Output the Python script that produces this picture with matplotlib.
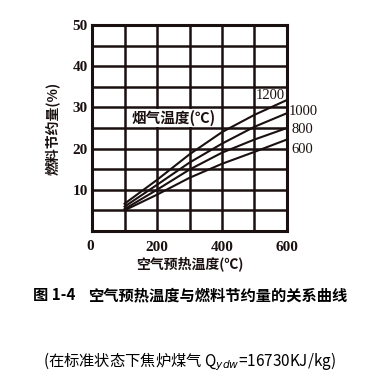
import matplotlib.pyplot as plt
import numpy as np

plt.rcParams['font.family'] = ['Noto Sans CJK SC', 'DejaVu Sans']

# air preheat temperature (C)
air_temp = [100, 200, 300, 400, 500, 600]
# fuel saving (%) for each flue gas temperature
flue_labels = ['1200', '1000', '800', '600']
save_1200 = [6.6, 12.4, 18.6, 24.0, 28.2, 31.8]
save_1000 = [5.9, 11.2, 16.6, 21.2, 25.3, 28.6]
save_800 = [5.3, 10.0, 14.9, 19.0, 22.2, 25.0]
save_600 = [5.0, 8.8, 12.9, 16.3, 19.2, 22.2]
series = [save_1200, save_1000, save_800, save_600]

xticks = [200, 400, 600]
yticks = [10, 20, 30, 40, 50]
xgrid = [100, 300, 500]
ygrid = [5, 15, 25, 35, 45]

ink = '#1a1010'

fig = plt.figure(figsize=(3.79, 3.81), dpi=100)
ax = fig.add_axes([0.243, 0.394, 0.514, 0.540])

ax.set_xlim(0, 600)
ax.set_ylim(0, 50)

for s in series:
    ax.plot(air_temp, s, color=ink, lw=1.5, zorder=2)

for sp in ax.spines.values():
    sp.set_linewidth(2.2)
    sp.set_color(ink)

# grid on major + minor ticks, every 100 / every 5
ax.set_xticks(xticks)
ax.set_yticks(yticks)
ax.set_xticks(xgrid, minor=True)
ax.set_yticks(ygrid, minor=True)
ax.grid(True, which='both', color=ink, lw=1.8, zorder=1)
ax.set_axisbelow(True)
ax.tick_params(which='both', length=0)
ax.tick_params(axis='y', pad=3)
ax.tick_params(axis='x', pad=7)
for t in ax.get_xticklabels() + ax.get_yticklabels():
    t.set_family('Liberation Serif')
    t.set_fontweight('bold')
    t.set_fontsize(11)
    t.set_color(ink)

# zero label at origin
ax.text(-6, -2.2, '0', ha='center', va='top', fontsize=11,
        family='Liberation Serif', fontweight='bold', color=ink)

ax.set_xlabel('空气预热温度(℃)', fontsize=10, fontweight='bold', labelpad=2, color=ink)
ax.set_ylabel('燃料节约量(%)', fontsize=10, fontweight='bold', labelpad=9, color=ink)

ax.text(252, 27.5, '烟气温度(℃)', fontsize=10.5, fontweight='bold', ha='center', va='center',
        color=ink, zorder=3, bbox=dict(facecolor='white', edgecolor='none', pad=0.5))

label_pos = [(548, 32.8, 'center'), (606, 28.9, 'left'), (615, 24.6, 'left'), (615, 19.8, 'left')]
for lab, (px, py, ha) in zip(flue_labels, label_pos):
    ax.text(px, py, lab, fontsize=10.5, family='Liberation Serif', ha=ha, va='center',
            color=ink, clip_on=False, zorder=3)

fig.text(0.087, 0.226, '图 1-4', fontsize=11, fontweight='bold', ha='left', va='center',
         family=['Noto Sans CJK SC', 'Liberation Serif'])
fig.text(0.232, 0.226, '空气预热温度与燃料节约量的关系曲线', fontsize=11, fontweight='bold',
         ha='left', va='center')
fig.text(0.5, 0.05, '(在标准状态下焦炉煤气 Q$_{ydw}$=16730KJ/kg)', fontsize=11,
         ha='center', va='center')

fig.savefig('out.png', dpi=100, facecolor='white')
